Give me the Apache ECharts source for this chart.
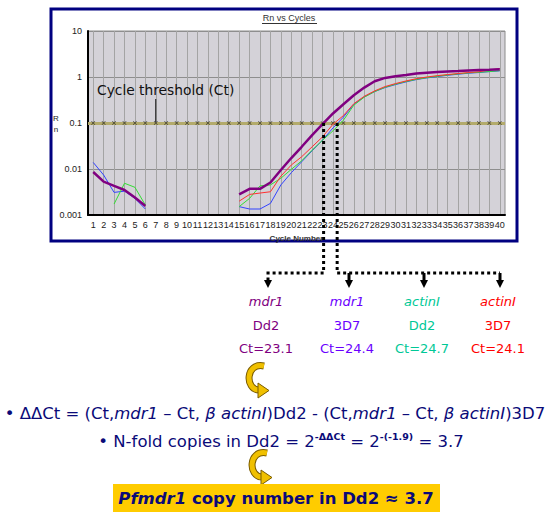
<!DOCTYPE html>
<html>
<head>
<meta charset="utf-8">
<script src="https://cdn.jsdelivr.net/npm/echarts@6/dist/echarts.min.js"></script>
<style>
html, body { margin: 0; padding: 0; background: #fff; }
#main { width: 552px; height: 521px; }
</style>
</head>
<body>
<div id="main"></div>
<script>
// cycle numbers on the x axis
var cycles = ['1', '2', '3', '4', '5', '6', '7', '8', '9', '10',
    '11', '12', '13', '14', '15', '16', '17', '18', '19', '20',
    '21', '22', '23', '24', '25', '26', '27', '28', '29', '30',
    '31', '32', '33', '34', '35', '36', '37', '38', '39', '40'];

// Rn (null = not drawn)
var mdr1Dd2 = [0.0086, 0.0053, 0.0043, 0.0035, 0.0024, 0.00157,
    null, null, null, null, null, null, null, null,
    0.0028, 0.0037, 0.0037, 0.0051, 0.0095, 0.0173, 0.0304, 0.0545, 0.094, 0.161,
    0.256, 0.402, 0.589, 0.809, 0.955, 1.04, 1.11, 1.19, 1.24, 1.29,
    1.32, 1.35, 1.39, 1.42, 1.44, 1.47];
var mdr13D7 = [0.0139, 0.0074, 0.0031, 0.0033, 0.0023, 0.00135,
    null, null, null, null, null, null, null, null,
    0.00152, 0.00135, 0.00135, 0.00179, 0.0045, 0.0083, 0.0144, 0.0249, 0.0424, 0.078,
    0.134, 0.256, 0.370, 0.483, 0.589, 0.684, 0.782, 0.879, 0.955, 1.02,
    1.09, 1.15, 1.21, 1.25, 1.31, 1.36];
var actin1Dd2 = [null, null, 0.00173, 0.0049, 0.0040, 0.00165,
    null, null, null, null, null, null, null, null,
    0.00152, 0.0023, 0.0043, 0.0045, 0.0063, 0.0098, 0.0151, 0.0257, 0.0424, 0.0676,
    0.115, 0.244, 0.364, 0.483, 0.60, 0.70, 0.80, 0.89, 0.97, 1.04,
    1.11, 1.17, 1.23, 1.27, 1.31, 1.38];
var actin13D7 = [null, null, null, null, null, null,
    null, null, null, null, null, null, null, null,
    0.0020, 0.0028, 0.0030, 0.0032, 0.0070, 0.0122, 0.0185, 0.0304, 0.0501, 0.094,
    0.145, 0.263, 0.38, 0.50, 0.62, 0.72, 0.82, 0.92, 1.0, 1.07,
    1.13, 1.19, 1.25, 1.30, 1.42, 1.52];

var threshold = 0.1;
var thresholdCycle = 7;   // where the "Cycle threshold" pointer lands

// Ct summary below the chart
var genes = ['mdr1', 'mdr1', 'actinI', 'actinI'];
var strains = ['Dd2', '3D7', 'Dd2', '3D7'];
var ctValues = [23.1, 24.4, 24.7, 24.1];
var curveColors = ['#800080', '#3344ff', '#33dd33', '#ff3030'];
var labelColors = ['#800080', '#6a00ff', '#00c896', '#ff0000'];

var navy = '#0a0a78';
var gold = '#f0c000';
var goldEdge = '#7a5c00';
var xMark = 'path://M0,1L1,0L5,4L9,0L10,1L6,5L10,9L9,10L5,6L1,10L0,9L4,5Z';

var chart = echarts.init(document.getElementById('main'), null, { renderer: 'svg' });

function curve(name, data, color, width, z) {
    return {
        name: name,
        type: 'line',
        data: data,
        symbol: 'none',
        connectNulls: false,
        z: z,
        lineStyle: { color: color, width: width },
        itemStyle: { color: color }
    };
}

var option = {
    animation: false,
    textStyle: { fontFamily: 'Liberation Sans' },
    grid: {
        left: 88, top: 31, width: 417, height: 184,
        show: true, backgroundColor: '#d4d2d8',
        borderColor: '#8c8c8c', borderWidth: 1
    },
    xAxis: {
        type: 'category',
        data: cycles,
        boundaryGap: true,
        name: 'Cycle Number',
        nameLocation: 'middle',
        nameGap: 19,
        nameTextStyle: { fontSize: 8, fontWeight: 'bold', color: '#333' },
        axisLine: { onZero: false, lineStyle: { color: '#000', width: 2 } },
        axisTick: { show: false },
        axisLabel: { interval: 0, fontSize: 9, color: '#222', margin: 5, hideOverlap: false },
        splitLine: { show: true, interval: 0, alignWithLabel: true, lineStyle: { color: '#a4a4a4', width: 1 } }
    },
    yAxis: {
        type: 'log',
        logBase: 10,
        min: 0.001,
        max: 10,
        axisLine: { show: true, lineStyle: { color: '#000', width: 2 } },
        axisTick: { show: false },
        axisLabel: { fontSize: 9, color: '#222', margin: 6 },
        splitLine: { show: true, lineStyle: { color: '#8e8e8e', width: 1 } }
    },
    series: [
        {
            name: 'threshold',
            type: 'scatter',
            data: cycles.map(function () { return threshold; }),
            symbol: xMark,
            symbolSize: 4,
            z: 3,
            silent: true,
            itemStyle: { color: '#1a1a1a' },
            markLine: {
                silent: true,
                z: 1,
                symbol: 'none',
                label: { show: false },
                lineStyle: { color: '#b3ab6c', width: 3, type: 'solid' },
                data: [{ yAxis: threshold }]
            }
        },
        curve('mdr1 3D7', mdr13D7, curveColors[1], 1, 4),
        curve('actinI Dd2', actin1Dd2, curveColors[2], 1, 4),
        curve('actinI 3D7', actin13D7, curveColors[3], 1, 4),
        curve('mdr1 Dd2', mdr1Dd2, curveColors[0], 2.5, 5)
    ]
};
chart.setOption(option);

// pixel position of a (fractional) cycle on the category axis
function px(c, v) {
    var i = Math.floor(c) - 1, f = c - Math.floor(c);
    var a = chart.convertToPixel({ xAxisIndex: 0, yAxisIndex: 0 }, [i, v]);
    var b = chart.convertToPixel({ xAxisIndex: 0, yAxisIndex: 0 }, [i + 1, v]);
    return [a[0] + f * (b[0] - a[0]), a[1]];
}

var dotted = { fill: 'none', stroke: '#000', lineWidth: 3, lineDash: [3, 3] };
var branchY = 273, headTop = 280, headBottom = 288;
var colX = [268, 349, 424, 500];

var p1 = px(ctValues[0], threshold);
var p2 = px(ctValues[1], threshold);
var pt = px(thresholdCycle, threshold);

var els = [];

// outer frame, title, y axis name
els.push({ type: 'rect', z: -1, shape: { x: 51, y: 9, width: 466, height: 232 },
    style: { fill: 'none', stroke: '#000080', lineWidth: 3 } });
els.push({ type: 'text', x: 289, y: 18, style: { text: 'Rn vs Cycles', font: '9px "Liberation Sans"',
    fill: '#333', align: 'center', verticalAlign: 'middle' } });
els.push({ type: 'line', shape: { x1: 262, y1: 23.5, x2: 317, y2: 23.5 }, style: { stroke: '#333', lineWidth: 1 } });
els.push({ type: 'text', x: 56, y: 124, style: { text: 'R\nn', font: '8px "Liberation Sans"', lineHeight: 11,
    fill: '#222', align: 'center', verticalAlign: 'middle' } });

// threshold annotation
els.push({ type: 'text', x: 97, y: 90, z: 100, style: { text: 'Cycle threshold (Ct)',
    font: '13.8px "DejaVu Sans"', fill: '#111', align: 'left', verticalAlign: 'middle' } });
els.push({ type: 'line', z: 100, shape: { x1: pt[0], y1: 99, x2: pt[0], y2: pt[1] - 1 },
    style: { stroke: '#111', lineWidth: 1 } });

// dotted Ct drops
els.push({ type: 'polyline', z: 100, shape: { points: [[p1[0], p1[1]], [p1[0], branchY], [colX[0], branchY], [colX[0], headTop]] }, style: dotted });
els.push({ type: 'polyline', z: 100, shape: { points: [[p2[0], p2[1]], [p2[0], branchY], [colX[3], branchY]] }, style: dotted });
for (var k = 0; k < 4; k++) {
    var x = colX[k];
    if (k > 0) {
        els.push({ type: 'line', z: 100, shape: { x1: x, y1: branchY, x2: x, y2: headTop }, style: { stroke: '#000', lineWidth: 3 } });
    }
    els.push({ type: 'polygon', z: 100, shape: { points: [[x - 4, headTop], [x + 4, headTop], [x, headBottom]] },
        style: { fill: '#000' } });
    els.push({ type: 'text', x: x - 2, y: 301, style: { text: genes[k], font: 'italic 13px "DejaVu Sans"',
        fill: labelColors[k], align: 'center', verticalAlign: 'middle' } });
    els.push({ type: 'text', x: x - 2, y: 325, style: { text: strains[k], font: '13px "DejaVu Sans"',
        fill: labelColors[k], align: 'center', verticalAlign: 'middle' } });
    els.push({ type: 'text', x: x - 2, y: 348, style: { text: 'Ct=' + ctValues[k], font: '13px "DejaVu Sans"',
        fill: labelColors[k], align: 'center', verticalAlign: 'middle' } });
}

// curly arrows: C-shaped band ending in a right-pointing head
function curlyArrow(cx, cy) {
    var shape = { x1: cx + 5, y1: cy - 12, cpx1: cx - 14, cpy1: cy - 16, cpx2: cx - 14, cpy2: cy + 12, x2: cx, y2: cy + 12 };
    return [
        { type: 'bezierCurve', shape: shape, style: { fill: 'none', stroke: goldEdge, lineWidth: 7 } },
        { type: 'bezierCurve', shape: shape, style: { fill: 'none', stroke: gold, lineWidth: 5 } },
        { type: 'polygon', shape: { points: [[cx - 1, cy + 5], [cx + 10, cy + 12.5], [cx - 1, cy + 20]] },
            style: { fill: gold, stroke: goldEdge, lineWidth: 1 } }
    ];
}
els = els.concat(curlyArrow(259, 378), curlyArrow(262, 465));

// equations
els.push({ type: 'text', x: 275, y: 413, style: {
    text: '• ΔΔCt = (Ct,{i|mdr1} – Ct, {i|β actinI})Dd2 - (Ct,{i|mdr1} – Ct, {i|β actinI})3D7',
    font: '16.5px "DejaVu Sans"', fill: navy, align: 'center', verticalAlign: 'middle',
    rich: { i: { fontFamily: 'DejaVu Sans', fontStyle: 'italic', fontSize: 16.5, fill: navy } }
} });
els.push({ type: 'text', x: 281, y: 441, style: {
    text: '• N-fold copies in Dd2 = 2{s|-ΔΔCt} = 2{s|-(-1.9)} = 3.7',
    font: '16.5px "DejaVu Sans"', fill: navy, align: 'center', verticalAlign: 'middle',
    rich: { s: { fontFamily: 'DejaVu Sans', fontWeight: 'bold', fontSize: 9.5, fill: navy, padding: [0, 0, 10, 0] } }
} });

// result box
els.push({ type: 'rect', shape: { x: 113, y: 484, width: 327, height: 28 }, style: { fill: '#ffcc00' } });
els.push({ type: 'text', x: 276, y: 498, style: {
    text: '{i|Pfmdr1} copy number in Dd2 ≈ 3.7',
    font: 'bold 16.5px "DejaVu Sans"', fill: navy, align: 'center', verticalAlign: 'middle',
    rich: { i: { fontFamily: 'DejaVu Sans', fontStyle: 'italic', fontWeight: 'bold', fontSize: 16.5, fill: navy } }
} });

chart.setOption({ graphic: { elements: els } });
</script>
</body>
</html>
